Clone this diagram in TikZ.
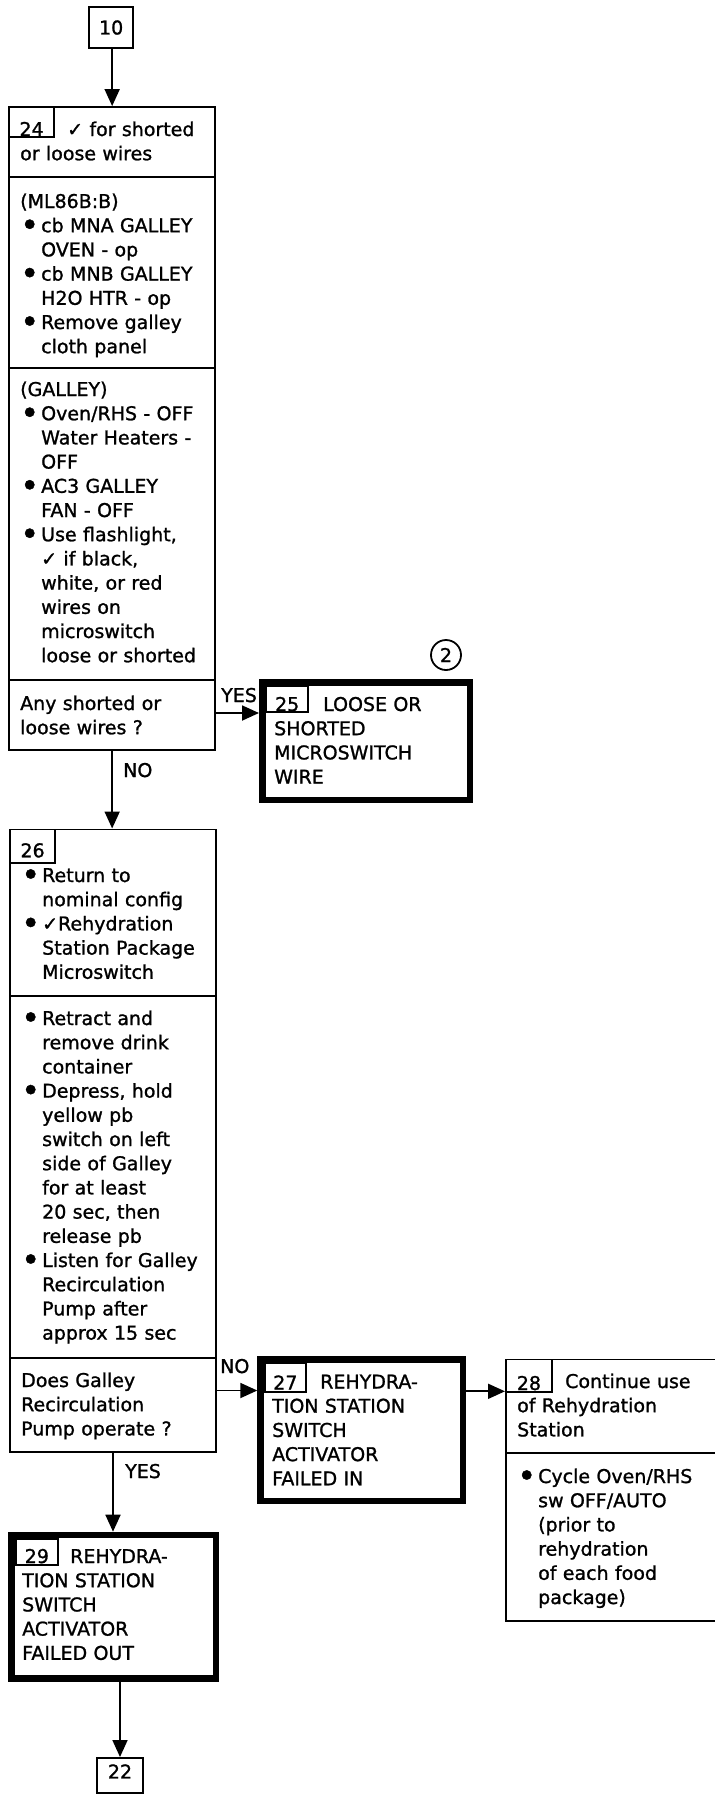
\documentclass[tikz,border=0pt]{standalone}
\usepackage{fontspec}
\setmainfont{DejaVu Sans}[FakeBold=1.2]
\usepackage{tikz}
\usetikzlibrary{arrows.meta}

\newcommand{\dotitem}{\makebox[21pt][l]{\raisebox{-4pt}{\scalebox{1.7}{•}}}}
\newcommand{\indentitem}{\makebox[21pt]{}}

\tikzset{
  sect/.style={draw, line width=1.8pt, inner sep=0pt, anchor=north west},
  endbox/.style={draw, line width=6.5pt, inner sep=0pt, anchor=north west},
  numbox/.style n args={3}{draw, line width=1.8pt, inner sep=0pt, anchor=north west,
    minimum width=#1, text height=#2, text depth=#3},
  txt/.style={anchor=base west, inner sep=0pt, text width=205pt, align=left},
  lbl/.style={anchor=base west, inner sep=0pt},
  arr/.style={line width=1.8pt, -{Triangle[length=17pt,width=15pt]}}
}

\begin{document}
\begin{tikzpicture}[x=1pt, y=-1pt, every node/.style={font=\fontsize{19pt}{24.2pt}\selectfont}]
  \useasboundingbox (0,0) rectangle (715,1800);

  % Entry from 10
  \node[sect, minimum width=43.9pt, minimum height=41.2pt, text height=13.9pt, text depth=0pt] (n10) at (88.3,6) {10};

  % Block 24
  \node[sect, minimum width=205.9pt, minimum height=70pt] (b24a) at (8.3,106.1) {};
  \node[sect, minimum width=205.9pt, minimum height=191pt] (b24b) at (8.3,176.1) {};
  \node[sect, minimum width=205.9pt, minimum height=312pt] (b24c) at (8.3,367.1) {};
  \node[sect, minimum width=205.9pt, minimum height=69.8pt] (b24q) at (8.3,679.1) {};
  \node[numbox={44.8pt}{29pt}{1pt}] (n24) at (8.3,106.1) {24};
  \node[txt] at (20,136) {\hspace*{47pt}✓ for shorted\\or loose wires};
  \node[txt] at (20,208) {(ML86B:B)\\\dotitem cb MNA GALLEY\\\indentitem OVEN - op\\\dotitem cb MNB GALLEY\\\indentitem H2O HTR - op\\\dotitem Remove galley\\\indentitem cloth panel};
  \node[txt] at (20,396) {(GALLEY)\\\dotitem Oven/RHS - OFF\\\indentitem Water Heaters -\\\indentitem OFF\\\dotitem AC3 GALLEY\\\indentitem FAN - OFF\\\dotitem Use flashlight,\\\indentitem ✓ if black,\\\indentitem white, or red\\\indentitem wires on\\\indentitem microswitch\\\indentitem loose or shorted};
  \node[txt] at (20,710) {Any shorted or\\loose wires ?};

  % Block 25
  \node[endbox, minimum width=207.8pt, minimum height=117.8pt] (b25) at (259,679) {};
  \node[numbox={41.6pt}{24.6pt}{1pt}] (n25) at (265.5,685.5) {25};
  \node[txt] at (274,711) {\hspace*{49pt}LOOSE OR\\SHORTED\\MICROSWITCH\\WIRE};
  \node[draw, circle, line width=1.8pt, minimum size=30pt, inner sep=0pt] (c2) at (446,655) {2};

  % Block 26
  \node[sect, minimum width=205.6pt, minimum height=166.6pt] (b26a) at (9.3,828.5) {};
  \node[sect, minimum width=205.6pt, minimum height=362pt] (b26b) at (9.3,995.1) {};
  \node[sect, minimum width=205.6pt, minimum height=93.8pt] (b26q) at (9.3,1357.1) {};
  \node[numbox={44.8pt}{27.9pt}{5.7pt}] (n26) at (9.3,828.5) {26};
  \node[txt] at (21,882) {\dotitem Return to\\\indentitem nominal config\\\dotitem ✓Rehydration\\\indentitem Station Package\\\indentitem Microswitch};
  \node[txt] at (21,1025) {\dotitem Retract and\\\indentitem remove drink\\\indentitem container\\\dotitem Depress, hold\\\indentitem yellow pb\\\indentitem switch on left\\\indentitem side of Galley\\\indentitem for at least\\\indentitem 20 sec, then\\\indentitem release pb\\\dotitem Listen for Galley\\\indentitem Recirculation\\\indentitem Pump after\\\indentitem approx 15 sec};
  \node[txt] at (21,1387) {Does Galley\\Recirculation\\Pump operate ?};

  % Block 27
  \node[endbox, minimum width=202.2pt, minimum height=141.5pt] (b27) at (257.3,1356) {};
  \node[numbox={41.3pt}{26.1pt}{2.5pt}] (n27) at (263.8,1362.5) {27};
  \node[txt] at (272,1388.5) {\hspace*{48pt}REHYDRA-\\TION STATION\\SWITCH\\ACTIVATOR\\FAILED IN};

  % Block 28
  \node[sect, minimum width=211.1pt, minimum height=93.6pt] (b28a) at (505,1358.5) {};
  \node[sect, minimum width=211.1pt, minimum height=167.8pt] (b28b) at (505,1452.1) {};
  \node[numbox={46.1pt}{30.6pt}{2pt}] (n28) at (505,1358.5) {28};
  \node[txt] at (517,1388) {\hspace*{48pt}Continue use\\of Rehydration\\Station};
  \node[txt] at (517,1483) {\dotitem Cycle Oven/RHS\\\indentitem sw OFF/AUTO\\\indentitem (prior to\\\indentitem rehydration\\\indentitem of each food\\\indentitem package)};

  % Block 29
  \node[endbox, minimum width=204.2pt, minimum height=143.5pt] (b29) at (8.3,1531.7) {};
  \node[numbox={42.3pt}{23.9pt}{2pt}] (n29) at (14.8,1538.2) {29};
  \node[txt] at (22,1563) {\hspace*{48pt}REHYDRA-\\TION STATION\\SWITCH\\ACTIVATOR\\FAILED OUT};

  % Exit to 22
  \node[sect, minimum width=46.2pt, minimum height=35.2pt, text height=13.9pt, text depth=8pt] (n22) at (96,1757) {22};

  % Branch labels
  \node[lbl] at (221,702) {YES};
  \node[lbl] at (123,777) {NO};
  \node[lbl] at (220,1373) {NO};
  \node[lbl] at (125,1478) {YES};

  % Arrows
  \draw[arr] (b24a.north |- n10.south) -- (b24a.north);
  \draw[arr] (b24q.south) -- (b24q.south |- b26a.north);
  \draw[arr] (b24q.east |- 0,713) -- (b25.west |- 0,713);
  \draw[arr] (b26q.south) -- (b26q.south |- b29.north);
  \draw[arr] (b26q.east |- 0,1390.5) -- (b27.west |- 0,1390.5);
  \draw[arr] (b27.east |- 0,1391.3) -- (b28a.west |- 0,1391.3);
  \draw[arr] (n22.north |- b29.south) -- (n22.north);
\end{tikzpicture}
\end{document}
